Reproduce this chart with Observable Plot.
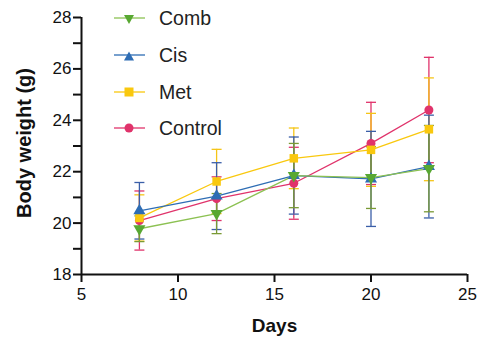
<!DOCTYPE html>
<html><head><meta charset="utf-8">
<script src="https://cdn.jsdelivr.net/npm/d3@7"></script>
<script src="https://cdn.jsdelivr.net/npm/@observablehq/plot@0.6"></script>
<style>
body{margin:0;background:#fff;font-family:"Liberation Sans",Arial,sans-serif}
#c{position:relative;width:483px;height:346px}
#legend{position:absolute;left:113px;top:0px}
.li{position:absolute;left:0;height:24px;display:flex;align-items:center;white-space:nowrap;font-size:19.5px;color:#222}
.li svg{margin-right:13px}
</style>
</head><body><div id="c"><div id="legend"></div></div>
<script>
const days = [8, 12, 16, 20, 23];
const groups = ["Comb", "Cis", "Met", "Control"];
const combMean = [19.78, 20.37, 21.85, 21.77, 22.12];
const combErr  = [0.5, 0.78, 1.25, 1.2, 1.68];
const cisMean  = [20.48, 21.05, 21.85, 21.72, 22.2];
const cisErr   = [1.1, 1.3, 1.5, 1.85, 2.0];
const metMean  = [20.2, 21.62, 22.52, 22.85, 23.65];
const metErr   = [0.9, 1.25, 1.18, 1.42, 2.0];
const ctrlMean = [20.1, 20.95, 21.55, 23.1, 24.4];
const ctrlErr  = [1.15, 0.85, 1.4, 1.6, 2.05];
const lineColors   = {Comb:"#8cc152", Cis:"#2e6db4", Met:"#f9c80e", Control:"#e0336b"};
const markerColors = {Comb:"#58a832", Cis:"#2e6db4", Met:"#f9c80e", Control:"#e0336b"};
const errColors    = {Comb:"#7a9a35", Cis:"#3b5fa8", Met:"#f5c518", Control:"#e0336b"};
const symbols = {Comb:"triangle", Cis:"triangle", Met:"square", Control:"circle"};

const series = {Comb:[combMean, combErr], Cis:[cisMean, cisErr], Met:[metMean, metErr], Control:[ctrlMean, ctrlErr]};
const rows = [];
for (const g of groups) {
  const [m, e] = series[g];
  days.forEach((d, i) => rows.push({group:g, day:d, mean:m[i], lo:m[i]-e[i], hi:m[i]+e[i]}));
}
const drawOrder = ["Control", "Met", "Cis", "Comb"];
const capSymbol = {draw(ctx, size){ const w = 5; ctx.moveTo(-w,0); ctx.lineTo(w,0); }};

const marks = [];
for (const g of drawOrder) {
  const data = rows.filter(r => r.group === g);
  const c = errColors[g];
  marks.push(Plot.ruleX(data, {x:"day", y1:"lo", y2:"hi", stroke:c, strokeWidth:1.3}));
  marks.push(Plot.dot(data, {x:"day", y:"lo", symbol:capSymbol, stroke:c, strokeWidth:1.3, fill:"none", r:5}));
  marks.push(Plot.dot(data, {x:"day", y:"hi", symbol:capSymbol, stroke:c, strokeWidth:1.3, fill:"none", r:5}));
}
for (const g of drawOrder) {
  const data = rows.filter(r => r.group === g);
  marks.push(Plot.line(data, {x:"day", y:"mean", stroke:lineColors[g], strokeWidth:1.3}));
}
for (const g of drawOrder) {
  const data = rows.filter(r => r.group === g);
  marks.push(Plot.dot(data, {x:"day", y:"mean", symbol:symbols[g], fill:markerColors[g], stroke:"none",
    r: g === "Met" ? 4.8 : 4.5, rotate: g === "Comb" ? 180 : 0}));
}

const chart = Plot.plot({
  width: 483, height: 346,
  marginLeft: 81, marginRight: 16, marginTop: 17, marginBottom: 72,
  style: {fontFamily: "Liberation Sans, Arial, sans-serif", background: "#fff", color: "#111"},
  x: {domain: [5, 25]},
  y: {domain: [18, 28]},
  marks: [
    ...marks,
    Plot.ruleY([18], {stroke:"#111", strokeWidth:2}),
    Plot.ruleX([5], {stroke:"#111", strokeWidth:2}),
    Plot.axisX({ticks:[5,10,15,20,25], tickSize:8, tickPadding:5, fontSize:17, strokeWidth:2, label:null, fill:"#111"}),
    Plot.axisY({ticks:d3.range(18, 29, 1), tickFormat: d => d % 2 === 0 ? d : "", tickSize:8, tickPadding:2, fontSize:17, strokeWidth:2, label:null, fill:"#111"}),
    Plot.text(["Body weight (g)"], {frameAnchor:"left", textAnchor:"middle", dx:-57, dy:-3, rotate:-90, fontWeight:"bold", fontSize:20, fill:"#111"}),
    Plot.text(["Days"], {frameAnchor:"bottom", dy:57, fontWeight:"bold", fontSize:19, fill:"#111"})
  ]
});
document.getElementById("c").prepend(chart);

const legend = document.getElementById("legend");
const tops = [6, 43, 80, 116];
groups.forEach((g, i) => {
  const div = document.createElement("div");
  div.className = "li";
  div.style.top = tops[i] + "px";
  let sym;
  if (g === "Comb") sym = `<path d="M11,19 L21,19 L16,10 Z" transform="rotate(180 16 14)" fill="${markerColors[g]}"/>`;
  else if (g === "Cis") sym = `<path d="M11,17.5 L21,17.5 L16,8.5 Z" fill="${markerColors[g]}"/>`;
  else if (g === "Met") sym = `<rect x="11.5" y="7.5" width="9" height="9" fill="${markerColors[g]}"/>`;
  else sym = `<circle cx="16" cy="12" r="4.5" fill="${markerColors[g]}"/>`;
  div.innerHTML = `<svg width="33" height="24"><line x1="1" x2="32" y1="12" y2="12" stroke="${lineColors[g]}" stroke-width="1.3"/>${sym}</svg><span>${g}</span>`;
  legend.appendChild(div);
});
</script></body></html>
